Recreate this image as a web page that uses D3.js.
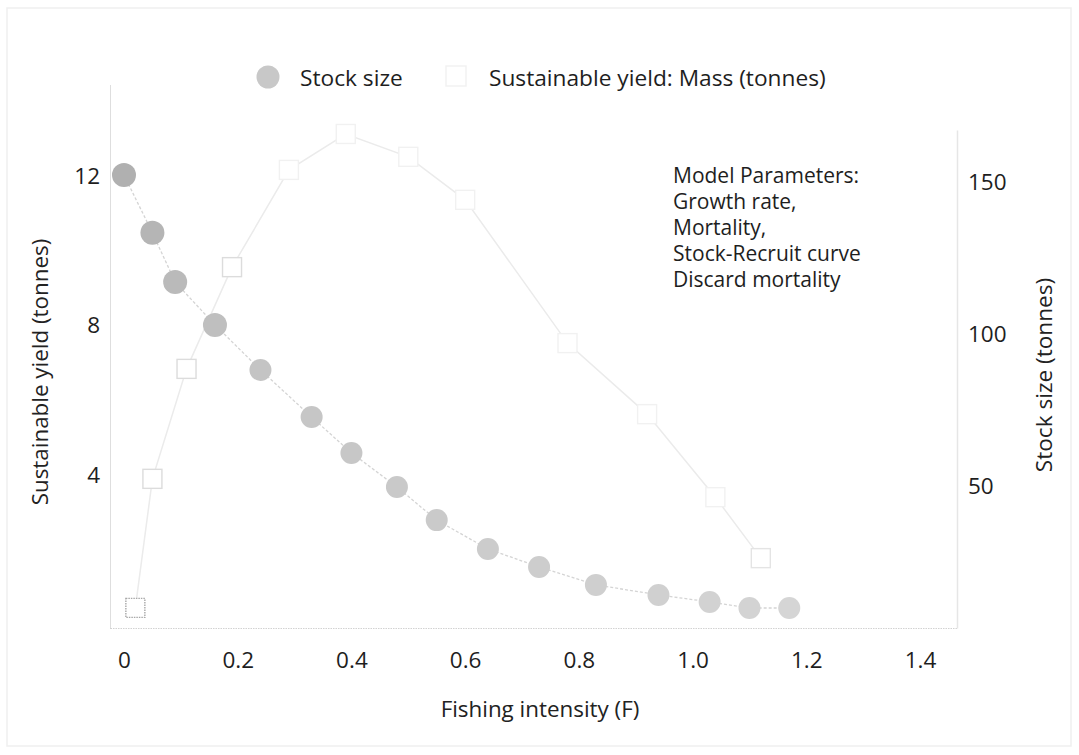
<!DOCTYPE html>
<html>
<head>
<meta charset="utf-8">
<script src="https://cdn.jsdelivr.net/npm/d3@7"></script>
<style>
  body { margin: 0; background: #fff; }
  svg { font-family: "Open Sans", "Noto Sans", sans-serif; }
</style>
</head>
<body>
<svg></svg>
<script>
// fishing intensity values for each series
const stockF = [0, 0.05, 0.09, 0.16, 0.24, 0.33, 0.40, 0.48, 0.55, 0.64, 0.73, 0.83, 0.94, 1.03, 1.10, 1.17];
const stockSize = [152.5, 133.5, 117.3, 103.2, 88.4, 72.9, 61.1, 49.9, 39.0, 29.5, 23.6, 17.7, 14.4, 12.1, 10.1, 10.1];

const yieldF = [0.02, 0.05, 0.11, 0.19, 0.29, 0.39, 0.50, 0.60, 0.78, 0.92, 1.04, 1.12];
const yieldMass = [0.45, 3.9, 6.84, 9.56, 12.16, 13.12, 12.51, 11.36, 7.53, 5.63, 3.41, 1.78];

// tick labels
const xTicks = [0, 0.2, 0.4, 0.6, 0.8, 1.0, 1.2, 1.4];
const leftTicks = [4, 8, 12];
const rightTicks = [50, 100, 150];

const params = ["Model Parameters:", "Growth rate,", "Mortality,", "Stock-Recruit curve", "Discard mortality"];

const w = 1079;
const h = 755;

let svg = d3.select("svg").attr("width", w).attr("height", h);

// faint scan frame
svg.append("rect")
  .attr("x", 7).attr("y", 8)
  .attr("width", 1064).attr("height", 738)
  .attr("fill", "none")
  .attr("stroke", "#efefef")
  .attr("stroke-width", 1.5);

// scales
let xScale = d3.scaleLinear().domain([-0.0246, 1.465]).range([110, 957]);
let yLeft = d3.scaleLinear().domain([-0.088, 14.43]).range([628, 85]);
let yRight = d3.scaleLinear().domain([3.52, 167.3]).range([628, 130]);

// axes
let xAxis = d3.axisBottom(xScale)
  .tickValues(xTicks)
  .tickSize(0)
  .tickPadding(24)
  .tickFormat(d => d === 0 ? "0" : d3.format(".1f")(d));

let leftAxis = d3.axisLeft(yLeft).tickValues(leftTicks).tickSize(0).tickPadding(10);
let rightAxis = d3.axisRight(yRight).tickValues(rightTicks).tickSize(0).tickPadding(11);

let gx = svg.append("g")
  .attr("id", "x-axis")
  .attr("transform", "translate(0," + 628 + ")")
  .call(xAxis);

let gl = svg.append("g")
  .attr("id", "y-axis-left")
  .attr("transform", "translate(110,0)")
  .call(leftAxis);

let gr = svg.append("g")
  .attr("id", "y-axis-right")
  .attr("transform", "translate(957,0)")
  .call(rightAxis);

gx.select(".domain").attr("stroke", "#d2d2d2").attr("stroke-dasharray", "1.5,1");
gl.select(".domain").attr("stroke", "#bdbdbd").attr("stroke-dasharray", "1,1");
gr.select(".domain").attr("stroke", "#e6e6e6").attr("stroke-width", 1.5);

svg.selectAll(".tick text")
  .attr("font-family", "'Open Sans', sans-serif")
  .attr("font-size", 22.5)
  .attr("fill", "#1e1e1e");

// axis titles
svg.append("text")
  .attr("transform", "translate(48," + 372 + ") rotate(-90)")
  .attr("text-anchor", "middle")
  .attr("font-size", 22.4)
  .attr("fill", "#222")
  .text("Sustainable yield (tonnes)");

svg.append("text")
  .attr("transform", "translate(1052," + 375 + ") rotate(-90)")
  .attr("text-anchor", "middle")
  .attr("font-size", 22.6)
  .attr("fill", "#222")
  .text("Stock size (tonnes)");

svg.append("text")
  .attr("x", 540)
  .attr("y", 717)
  .attr("text-anchor", "middle")
  .attr("font-size", 22.4)
  .attr("fill", "#222")
  .text("Fishing intensity (F)");

// yield line + squares (left axis)
let yieldPts = yieldF.map((f, i) => [f, yieldMass[i]]);

svg.append("path")
  .datum(yieldPts)
  .attr("fill", "none")
  .attr("stroke", "#ebebeb")
  .attr("stroke-width", 1.5)
  .attr("d", d3.line().x(d => xScale(d[0])).y(d => yLeft(d[1])));

const sq = 19;
let sqStroke = i => i === 0 ? "#a8a8a8" : (i < 4 ? "#dcdcdc" : (i === yieldPts.length - 1 ? "#e4e4e4" : "#f1f1f1"));

svg.selectAll(".sq")
  .data(yieldPts)
  .enter()
  .append("rect")
  .attr("class", "sq")
  .attr("x", d => xScale(d[0]) - sq / 2)
  .attr("y", d => yLeft(d[1]) - sq / 2)
  .attr("width", sq)
  .attr("height", sq)
  .attr("fill", "#fff")
  .attr("stroke", (d, i) => sqStroke(i))
  .attr("stroke-dasharray", (d, i) => i === 0 ? "1.5,1" : null)
  .attr("stroke-width", 1.4);

// stock line + circles (right axis)
let stockPts = stockF.map((f, i) => [f, stockSize[i]]);

svg.append("path")
  .datum(stockPts)
  .attr("fill", "none")
  .attr("stroke", "#d4d4d4")
  .attr("stroke-width", 1.3)
  .attr("stroke-dasharray", "3,2")
  .attr("d", d3.line().x(d => xScale(d[0])).y(d => yRight(d[1])));

let shade = d3.scaleLinear().domain([0, 4, stockPts.length - 1]).range(["#b0b0b0", "#c4c4c4", "#d5d5d5"]);

svg.selectAll(".dot")
  .data(stockPts)
  .enter()
  .append("circle")
  .attr("class", "dot")
  .attr("cx", d => xScale(d[0]))
  .attr("cy", d => yRight(d[1]))
  .attr("r", (d, i) => i < 4 ? 12 : 11)
  .attr("fill", (d, i) => shade(i));

// legend
let legend = svg.append("g").attr("font-size", 22.7).attr("fill", "#1e1e1e");
legend.append("circle").attr("cx", 268).attr("cy", 77).attr("r", 11.5).attr("fill", "#c8c8c8");
legend.append("text").attr("x", 300).attr("y", 85.5).text("Stock size");
legend.append("rect").attr("x", 446).attr("y", 66).attr("width", 20).attr("height", 20)
  .attr("fill", "#fff").attr("stroke", "#f1f1f1").attr("stroke-width", 1.4);
legend.append("text").attr("x", 489).attr("y", 85.5).text("Sustainable yield: Mass (tonnes)");

// model parameter note
svg.append("text")
  .attr("x", 673)
  .attr("y", 182.5)
  .attr("font-size", 21)
  .attr("fill", "#1e1e1e")
  .selectAll("tspan")
  .data(params)
  .enter()
  .append("tspan")
  .attr("x", 673)
  .attr("dy", (d, i) => i === 0 ? 0 : 26.2)
  .text(d => d);
</script>
</body>
</html>
